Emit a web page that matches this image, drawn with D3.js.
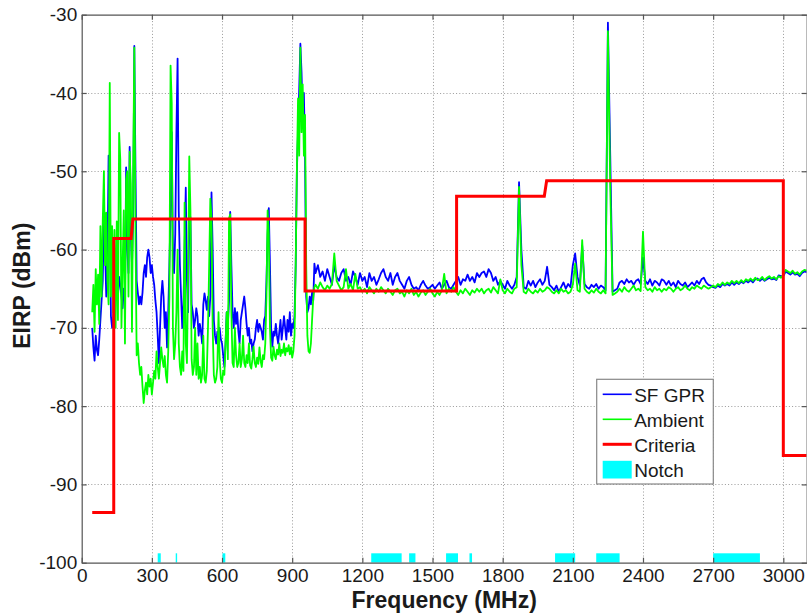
<!DOCTYPE html>
<html>
<head>
<meta charset="utf-8">
<script src="https://cdn.jsdelivr.net/npm/d3@7"></script>
<style>
  html, body { margin: 0; padding: 0; background: #fff; }
  svg { display: block; font-family: "Liberation Sans", Arial, Helvetica, sans-serif; }
</style>
</head>
<body>
<svg id="chart" width="807" height="615"></svg>
<script>
// ---- Measurement sampling grids (MHz) ----
const lowBand  = { start: 45,   stop: 995,  step: 5 };   // dense sweep below 1 GHz
const highBand = { start: 1000, stop: 3100, step: 10 };  // coarser sweep above 1 GHz

// ---- SF GPR EIRP (dBm), 45–995 MHz every 5 MHz ----
const sfGprLow = [
  -70.0, -72.5, -74.2, -71.0, -72.8, -73.5, -71.5, -69.0, -66.5, -64.0, -55.5,
  -60.0, -66.0, -62.0, -48.0, -55.0, -68.5, -70.0, -69.0, -64.0, -62.0,
  -60.0, -66.0, -63.5, -64.5, -66.0, -67.5, -65.0, -66.5, -49.5, -60.0,
  -63.0, -46.9, -58.0, -62.0, -56.0, -34.0, -50.0, -64.0, -65.5, -67.0,
  -66.0, -67.0, -65.5, -63.0, -62.0, -63.5, -61.0, -60.0, -61.0, -63.0,
  -62.0, -63.5, -64.5, -66.5, -68.0, -71.0, -74.5, -70.0, -66.0, -64.0,
  -66.0, -70.0, -68.0, -72.5, -68.0, -62.0, -55.0, -45.0, -60.0, -63.0,
  -58.0, -45.0, -35.6, -55.0, -62.0, -66.0, -70.0, -67.0, -60.0, -52.1,
  -64.0, -68.0, -55.0, -56.0, -67.0, -68.0, -70.0, -69.0, -67.5, -68.5,
  -71.0, -69.5, -70.5, -72.0, -67.0, -65.6, -66.5, -67.7, -66.0, -68.5,
  -66.0, -52.7, -60.0, -69.0, -71.0, -72.0, -70.5, -71.5, -70.0, -71.5,
  -72.0, -73.5, -75.0, -72.0, -68.0, -69.5, -66.5, -55.2, -62.0, -68.0,
  -70.0, -67.5, -69.5, -68.0, -70.5, -72.0, -69.0, -68.0, -67.0, -66.0,
  -67.5, -69.5, -71.0, -70.0, -72.0, -71.5, -73.0, -72.0, -71.5, -70.0,
  -69.0, -70.5, -69.5, -70.0, -70.5, -71.5, -69.0, -68.5, -64.0, -58.0,
  -54.7, -62.0, -70.0, -72.4, -70.5, -71.0, -69.5, -71.0, -72.0, -70.5,
  -69.0, -71.5, -70.0, -68.5, -70.0, -71.5, -69.0, -70.5, -68.0, -71.0,
  -69.5, -70.0, -68.5, -62.0, -50.0, -45.0, -39.6, -33.7, -37.4, -43.2,
  -40.0, -48.0, -66.0, -68.0, -67.5, -66.0, -67.0, -65.5, -66.5, -61.8
];

// ---- SF GPR EIRP (dBm), 1000–3100 MHz every 10 MHz ----
const sfGprHigh = [
  -63.0, -62.0, -63.5, -62.8, -64.0, -62.5, -63.5, -64.5, -62.0, -63.5,
  -64.0, -63.0, -62.5, -64.0, -63.5, -64.5, -62.8, -63.5, -64.5, -63.0,
  -64.0, -63.5, -64.8, -63.0, -64.0, -63.5, -64.5, -63.8, -63.0, -62.5,
  -63.5, -64.0, -63.0, -64.5, -63.5, -63.0, -64.0, -64.5, -65.0, -64.0,
  -63.5, -64.5, -65.0, -64.8, -65.2, -64.5, -64.0, -64.6, -65.0, -64.8,
  -64.5, -65.0, -64.6, -64.2, -65.0, -64.5, -64.0, -64.8, -65.0, -64.5,
  -64.0, -63.5, -64.5, -63.8, -64.0, -63.2, -64.0, -63.5, -64.2, -63.0,
  -63.5, -63.0, -62.8, -63.5, -62.5, -63.0, -64.0, -63.5, -64.5, -64.0,
  -64.5, -65.0, -64.0, -64.6, -65.0, -64.5, -63.5, -51.4, -60.0, -64.8,
  -65.0, -64.0, -64.6, -64.0, -64.8, -64.2, -63.8, -64.5, -64.0, -62.2,
  -64.5, -64.8, -65.2, -64.6, -65.4, -64.8, -64.2, -65.0, -64.4, -64.8,
  -62.0, -60.5, -63.5, -64.6, -59.5, -64.4, -64.8, -65.0, -64.5, -64.8,
  -64.4, -65.0, -64.6, -64.8, -65.2, -31.0, -48.0, -65.4, -65.2, -65.0,
  -64.2, -64.0, -64.4, -63.8, -64.2, -64.0, -64.5, -64.0, -63.8, -64.4,
  -61.0, -64.0, -64.4, -63.8, -64.6, -64.0, -64.2, -64.6, -63.8, -64.0,
  -64.5, -64.0, -64.6, -64.2, -64.8, -64.0, -64.4, -64.6, -64.2, -64.8,
  -64.5, -64.2, -64.6, -64.0, -64.4, -63.8, -63.6, -64.2, -64.5, -64.6,
  -64.8, -64.9, -64.6, -64.8, -64.4, -64.6, -64.4, -64.6, -64.2, -64.5,
  -64.2, -64.4, -64.1, -64.3, -64.0, -64.2, -63.9, -64.2, -63.8, -63.7,
  -64.0, -63.7, -64.0, -63.8, -63.6, -63.8, -63.7, -63.9, -63.3, -63.4,
  -63.4, -62.8, -63.0, -63.2, -62.9, -63.2, -63.1, -63.4, -63.0, -62.8,
  -62.9
];

// ---- Ambient EIRP (dBm), 45–995 MHz every 5 MHz ----
const ambientLow = [
  -68.0, -64.5, -70.5, -62.5, -67.0, -63.2, -69.5, -57.0, -66.0, -56.4, -50.0,
  -62.0, -55.3, -64.0, -67.0, -38.7, -66.0, -57.0, -68.0, -57.5, -70.0,
  -56.4, -69.0, -45.1, -48.5, -70.0, -62.0, -55.0, -72.0, -51.0, -50.0,
  -66.0, -47.5, -51.5, -70.5, -50.5, -34.2, -58.0, -73.5, -72.0, -74.5,
  -76.0, -75.0, -77.5, -79.6, -78.0, -77.0, -78.5, -76.0, -77.5, -76.5,
  -78.5, -77.0, -75.5, -76.5, -73.0, -75.0, -76.5, -74.5, -72.5, -74.0,
  -75.0, -73.6, -76.0, -77.0, -73.0, -66.0, -36.5, -41.3, -70.0, -74.0,
  -72.0, -68.0, -60.0, -72.0, -75.0, -76.0, -73.0, -75.5, -54.0, -72.0,
  -74.5, -63.0, -48.1, -55.0, -74.0, -76.0, -75.0, -70.0, -76.0, -72.0,
  -76.5, -75.0, -77.0, -76.0, -71.0, -76.5, -77.0, -75.5, -70.0, -62.0,
  -53.5, -56.0, -70.0, -76.0, -77.0, -76.5, -75.0, -68.0, -74.0, -76.5,
  -77.0, -75.5, -76.0, -72.0, -68.0, -74.0, -56.0, -55.5, -68.0, -74.5,
  -75.0, -70.0, -73.5, -75.0, -74.5, -72.0, -75.0, -74.0, -71.0, -74.5,
  -75.0, -73.5, -74.5, -72.0, -74.8, -75.2, -74.0, -72.4, -74.5, -75.0,
  -73.8, -74.6, -72.5, -74.2, -75.0, -73.5, -74.0, -72.0, -66.0, -55.0,
  -58.0, -70.0, -73.8, -74.2, -72.4, -73.5, -74.0, -72.8, -73.4, -72.0,
  -73.6, -72.8, -73.2, -72.0, -73.5, -72.6, -73.0, -72.2, -73.4, -72.5,
  -73.8, -73.0, -71.0, -62.0, -50.0, -40.7, -48.0, -34.2, -45.0, -38.9,
  -48.0, -42.8, -62.0, -71.0, -73.0, -73.2, -72.0, -69.0, -66.2, -64.8
];

// ---- Ambient EIRP (dBm), 1000–3100 MHz every 10 MHz ----
const ambientHigh = [
  -64.5, -65.0, -64.2, -64.8, -65.2, -64.6, -65.0, -64.4, -60.5, -64.0,
  -64.6, -65.2, -64.8, -62.5, -65.0, -64.4, -65.2, -63.1, -65.0, -64.8,
  -65.4, -65.0, -65.6, -64.8, -65.2, -65.6, -65.0, -65.4, -64.8, -65.2,
  -65.6, -65.0, -65.4, -65.8, -65.2, -65.0, -65.6, -65.4, -66.0, -65.2,
  -65.6, -65.0, -65.8, -65.4, -66.0, -65.5, -65.2, -65.8, -65.4, -65.0,
  -65.6, -66.0, -65.4, -65.8, -65.2, -63.1, -65.6, -65.0, -65.4, -64.8,
  -65.4, -65.8, -65.2, -65.6, -65.0, -65.4, -65.8, -65.2, -65.5, -65.0,
  -65.4, -65.0, -65.6, -65.2, -65.0, -65.5, -64.8, -65.2, -65.6, -63.8,
  -65.2, -65.6, -65.0, -65.4, -65.6, -65.0, -64.8, -52.0, -62.0, -65.4,
  -65.6, -65.0, -65.4, -65.6, -65.2, -65.5, -65.0, -65.4, -65.2, -64.8,
  -65.0, -65.4, -65.6, -65.2, -65.6, -65.0, -65.4, -65.2, -65.6, -65.4,
  -64.5, -61.8, -65.2, -65.4, -58.8, -65.0, -65.4, -65.6, -65.2, -65.5,
  -65.0, -65.4, -65.6, -65.2, -65.6, -32.1, -52.0, -65.8, -65.6, -65.4,
  -65.0, -65.4, -64.8, -65.2, -65.4, -65.0, -64.6, -65.2, -65.0, -65.3,
  -57.7, -64.8, -65.2, -65.0, -65.4, -64.8, -65.2, -65.0, -65.4, -65.0,
  -65.2, -64.8, -65.0, -65.4, -65.0, -64.8, -65.2, -65.0, -64.6, -65.0,
  -65.2, -64.8, -65.0, -64.6, -64.8, -65.0, -64.6, -64.8, -65.0, -64.8,
  -64.6, -64.8, -64.4, -64.6, -64.2, -64.5, -64.2, -64.4, -64.0, -64.3,
  -64.0, -64.3, -63.9, -64.2, -63.8, -64.0, -63.7, -64.0, -63.6, -63.9,
  -63.8, -63.5, -63.9, -63.6, -63.4, -63.7, -63.5, -63.8, -63.4, -63.6,
  -63.2, -62.6, -62.8, -63.0, -62.7, -63.1, -62.9, -63.2, -62.8, -62.6,
  -62.7
];

// ---- Emission criteria (step mask) ----
const criteriaFreq  = [45, 137, 137, 211, 219, 955, 955, 1603, 1603, 1978, 1988, 3000, 3000, 3100];
const criteriaLevel = [-93.6, -93.6, -58.6, -58.6, -56.1, -56.1, -65.3, -65.3, -53.2, -53.2, -51.2, -51.2, -86.3, -86.3];

// ---- Notched bands (MHz) ----
const notchStart = [325, 402, 602, 1238, 1400, 1558, 1658, 2024, 2200, 2700];
const notchStop  = [338, 408, 614, 1368, 1427, 1609, 1669, 2110, 2300, 2900];
const notchLevel = -98.8;   // top of the notch markers, dBm

// ---- Axis ticks and labels ----
const xTicks = [0, 300, 600, 900, 1200, 1500, 1800, 2100, 2400, 2700, 3000];
const yTicks = [-100, -90, -80, -70, -60, -50, -40, -30];
const xLabel = "Frequency (MHz)";
const yLabel = "EIRP (dBm)";
const seriesNames = ["SF GPR", "Ambient", "Criteria", "Notch"];

// ---- Build series ----
const lowFreq  = d3.range(lowBand.start,  lowBand.stop  + 1, lowBand.step);
const highFreq = d3.range(highBand.start, highBand.stop + 1, highBand.step);
const freqs = lowFreq.concat(highFreq);
const sfGprAll = sfGprLow.concat(sfGprHigh);
const ambientAll = ambientLow.concat(ambientHigh);
const sfGpr   = freqs.map((f, i) => ({ f, v: sfGprAll[i] }));
const ambient = freqs.map((f, i) => ({ f, v: ambientAll[i] }));
const criteria = criteriaFreq.map((f, i) => ({ f, v: criteriaLevel[i] }));
const notches = notchStart.map((s, i) => ({ s, e: notchStop[i] }));

// ---- Layout ----
const plot = { left: 81.7, top: 14.7, right: 806.7, bottom: 562.7 };
const svg = d3.select("#chart");

const x = d3.scaleLinear().domain([0, 3100]).range([plot.left, plot.right]);
const y = d3.scaleLinear().domain([-100, -30]).range([plot.bottom, plot.top]);

svg.append("defs").append("clipPath").attr("id", "plotClip")
  .append("rect")
  .attr("x", plot.left).attr("y", plot.top)
  .attr("width", plot.right - plot.left).attr("height", plot.bottom - plot.top);

// Dotted grid
const grid = svg.append("g").attr("class", "grid")
  .attr("stroke", "#9a9a9a").attr("stroke-width", 1).attr("stroke-dasharray", "1,2.2");
grid.selectAll("line.gx").data(xTicks.filter(t => t > 0)).join("line")
  .attr("x1", d => Math.round(x(d)) + 0.5).attr("x2", d => Math.round(x(d)) + 0.5)
  .attr("y1", plot.top).attr("y2", plot.bottom);
grid.selectAll("line.gy").data(yTicks.filter(t => t > -100 && t < -30)).join("line")
  .attr("y1", d => Math.round(y(d)) + 0.5).attr("y2", d => Math.round(y(d)) + 0.5)
  .attr("x1", plot.left).attr("x2", plot.right);

// Data lines
const line = d3.line().x(d => x(d.f)).y(d => y(d.v));
const data = svg.append("g").attr("clip-path", "url(#plotClip)");

data.append("path").datum(sfGpr)
  .attr("fill", "none").attr("stroke", "#0000ff").attr("stroke-width", 1.8)
  .attr("stroke-linejoin", "round").attr("d", line);
data.append("path").datum(ambient)
  .attr("fill", "none").attr("stroke", "#00ff00").attr("stroke-width", 1.8)
  .attr("stroke-linejoin", "round").attr("d", line);
data.append("path").datum(criteria)
  .attr("fill", "none").attr("stroke", "#ff0000").attr("stroke-width", 3)
  .attr("d", line);
data.selectAll("rect.notch").data(notches).join("rect")
  .attr("class", "notch")
  .attr("x", d => x(d.s)).attr("width", d => x(d.e) - x(d.s))
  .attr("y", y(notchLevel)).attr("height", y(-100) - y(notchLevel))
  .attr("fill", "#00ffff");

// Axes (ticks pointing inward, box on all four sides)
const axisColor = "#555";
const fontSize = 19;
const plain = d => String(d);   // "-30", "1200": hyphen minus, no thousands separator

const xAxis = svg.append("g").attr("transform", `translate(0,${plot.bottom})`)
  .call(d3.axisBottom(x).tickValues(xTicks).tickFormat(plain)
    .tickSizeInner(-5).tickSizeOuter(0).tickPadding(6));
const yAxis = svg.append("g").attr("transform", `translate(${plot.left},0)`)
  .call(d3.axisLeft(y).tickValues(yTicks).tickFormat(plain)
    .tickSizeInner(-5).tickSizeOuter(0).tickPadding(4.5));
const topAxis = svg.append("g").attr("transform", `translate(0,${plot.top})`)
  .call(d3.axisTop(x).tickValues(xTicks).tickSizeInner(-5).tickSizeOuter(0).tickFormat(""));
const rightAxis = svg.append("g").attr("transform", `translate(${plot.right},0)`)
  .call(d3.axisRight(y).tickValues(yTicks).tickSizeInner(-5).tickSizeOuter(0).tickFormat(""));

[xAxis, yAxis, topAxis, rightAxis].forEach(g => {
  g.select(".domain").attr("stroke", axisColor).attr("stroke-width", 1.2);
  g.selectAll(".tick line").attr("stroke", axisColor).attr("stroke-width", 1.2);
  g.selectAll(".tick text")
    .attr("fill", "#1a1a1a")
    .style("font-size", fontSize + "px")
    .style("font-family", '"Liberation Sans", Arial, Helvetica, sans-serif');
});

// Axis titles
svg.append("text")
  .attr("x", (plot.left + plot.right) / 2).attr("y", 607.5)
  .attr("text-anchor", "middle")
  .style("font-size", "23px").style("font-weight", "bold").attr("fill", "#1a1a1a")
  .text(xLabel);
svg.append("text")
  .attr("transform", `translate(30,${(plot.top + plot.bottom) / 2 - 3}) rotate(-90)`)
  .attr("text-anchor", "middle")
  .style("font-size", "23px").style("font-weight", "bold").attr("fill", "#1a1a1a")
  .text(yLabel);

// Legend
const legend = svg.append("g").attr("transform", "translate(596.7,379.3)");
legend.append("rect")
  .attr("width", 116.6).attr("height", 104.7)
  .attr("fill", "#fff").attr("stroke", "#888").attr("stroke-width", 1.2);
const legendItems = [
  { name: seriesNames[0], color: "#0000ff", kind: "line", w: 1.6 },
  { name: seriesNames[1], color: "#00ff00", kind: "line", w: 1.6 },
  { name: seriesNames[2], color: "#ff0000", kind: "line", w: 3 },
  { name: seriesNames[3], color: "#00ffff", kind: "patch" }
];
legendItems.forEach((it, i) => {
  const cy = 15 + i * 25;
  if (it.kind === "line") {
    legend.append("line")
      .attr("x1", 6).attr("x2", 35).attr("y1", cy).attr("y2", cy)
      .attr("stroke", it.color).attr("stroke-width", it.w);
  } else {
    legend.append("rect")
      .attr("x", 6).attr("y", cy - 8.5).attr("width", 29).attr("height", 17.7)
      .attr("fill", it.color);
  }
  legend.append("text")
    .attr("x", 37.5).attr("y", cy + 7.5)
    .style("font-size", fontSize + "px").attr("fill", "#1a1a1a")
    .text(it.name);
});
</script>
</body>
</html>
